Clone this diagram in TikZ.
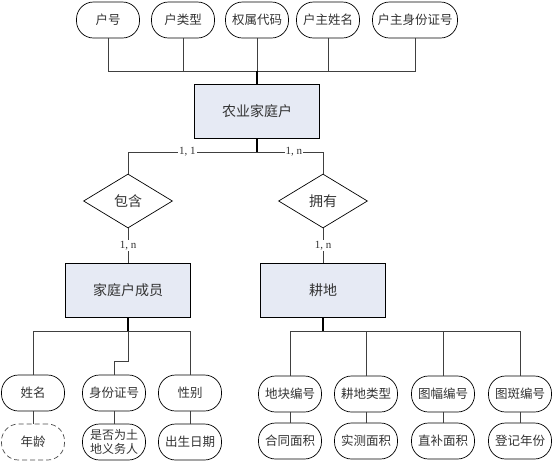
\documentclass[tikz,border=0pt]{standalone}
\usepackage{fontspec}
\setmainfont{Liberation Serif}
\newfontfamily\cjk{Noto Sans CJK SC}
\usetikzlibrary{shapes.geometric}
\definecolor{entfill}{HTML}{E6EAF4}
\definecolor{txt}{HTML}{333333}
\tikzset{
  entity/.style={shape=rectangle,draw=black,line width=0.8pt,fill=entfill,minimum width=125pt,minimum height=54pt,font=\cjk\fontsize{14}{16}\selectfont,text=txt},
  rel/.style={shape=diamond,draw=black,line width=0.7pt,aspect=1.65,inner sep=0pt,minimum width=89pt,minimum height=54pt,font=\cjk\fontsize{14}{16}\selectfont,text=txt},
  attr/.style={shape=rectangle,draw=black,line width=0.7pt,rounded corners=17pt,minimum width=63pt,minimum height=36pt,inner xsep=5pt,font=\cjk\fontsize{12.5}{14}\selectfont,text=txt},
  link/.style={draw=black!75,line width=0.9pt},
  stem/.style={draw=black,line width=1.2pt},
  card/.style={fill=white,inner sep=1pt,font=\fontsize{11}{12}\selectfont,text=txt}
}
\begin{document}
\begin{tikzpicture}[x=1pt,y=-1pt]
				\useasboundingbox (0,0) rectangle (555,464);

				% household and its attributes
				\node[attr] (hh1) at (108,20) {户号};
				\node[attr] (hh2) at (183,20) {户类型};
				\node[attr] (hh3) at (257,20) {权属代码};
				\node[attr] (hh4) at (328,20) {户主姓名};
				\node[attr,minimum width=85pt] (hh5) at (415,20) {户主身份证号};
				\node[entity] (hh) at (257,111) {农业家庭户};
				\coordinate (jt) at (257,71);
				\coordinate (jb) at (257,152);

				% relationships
				\node[rel] (bh) at (128,201) {包含};
				\node[rel] (yy) at (323,201) {拥有};

				% member and land
				\node[entity] (cy) at (128,290) {家庭户成员};
				\node[entity] (gd) at (323,290) {耕地};
				\coordinate (jm) at (128,331);
				\coordinate (jk) at (128,361);
				\coordinate (jl) at (323,331);

				% member attributes
				\node[attr] (xm) at (33,393) {姓名};
				\node[attr] (sfz) at (114,393) {身份证号};
				\node[attr] (xb) at (190,393) {性别};
				\node[attr,draw=black!70,dash pattern=on 5pt off 3pt] (nl) at (33,442) {年龄};
				\node[attr,align=center,font=\cjk\fontsize{12}{14}\selectfont] (yw) at (114,442) {是否为土\\地义务人};
				\node[attr] (cs) at (190,442) {出生日期};

				% land attributes
				\node[attr] (dk) at (290,394) {地块编号};
				\node[attr] (lx) at (366,394) {耕地类型};
				\node[attr] (tf) at (443,394) {图幅编号};
				\node[attr] (tb) at (520,394) {图斑编号};
				\node[attr] (ht) at (290,441) {合同面积};
				\node[attr] (sc) at (366,441) {实测面积};
				\node[attr] (zb) at (443,441) {直补面积};
				\node[attr] (dj) at (520,441) {登记年份};

				\draw[link] (hh1) |- (jt);
				\draw[link] (hh2) |- (jt);
				\draw[link] (hh3) -- (jt);
				\draw[link] (hh4) |- (jt);
				\draw[link] (hh5) |- (jt);
				\draw[stem] (jt) -- (hh);

				\draw[stem] (hh) -- (jb);
				\draw[link] (jb) -| node[card,pos=.27] {1, 1} (bh);
				\draw[link] (jb) -| node[card,pos=.28] {1, n} (yy);
				\draw[link] (bh) -- node[card] {1, n} (cy);
				\draw[link] (yy) -- node[card] {1, n} (gd);

				\draw[stem] (cy) -- (jm);
				\draw[link] (jm) -| (xm);
				\draw[link] (jm) -| (xb);
				\draw[link] (jm) -- (jk) -| (sfz);
				\draw[link] (xm) -- (nl);
				\draw[link] (sfz) -- (yw);
				\draw[link] (xb) -- (cs);

				\draw[stem] (gd) -- (jl);
				\draw[link] (jl) -| (dk);
				\draw[link] (jl) -| (lx);
				\draw[link] (jl) -| (tf);
				\draw[link] (jl) -| (tb);
				\draw[link] (dk) -- (ht);
				\draw[link] (lx) -- (sc);
				\draw[link] (tf) -- (zb);
				\draw[link] (tb) -- (dj);
			\end{tikzpicture}
\end{document}
